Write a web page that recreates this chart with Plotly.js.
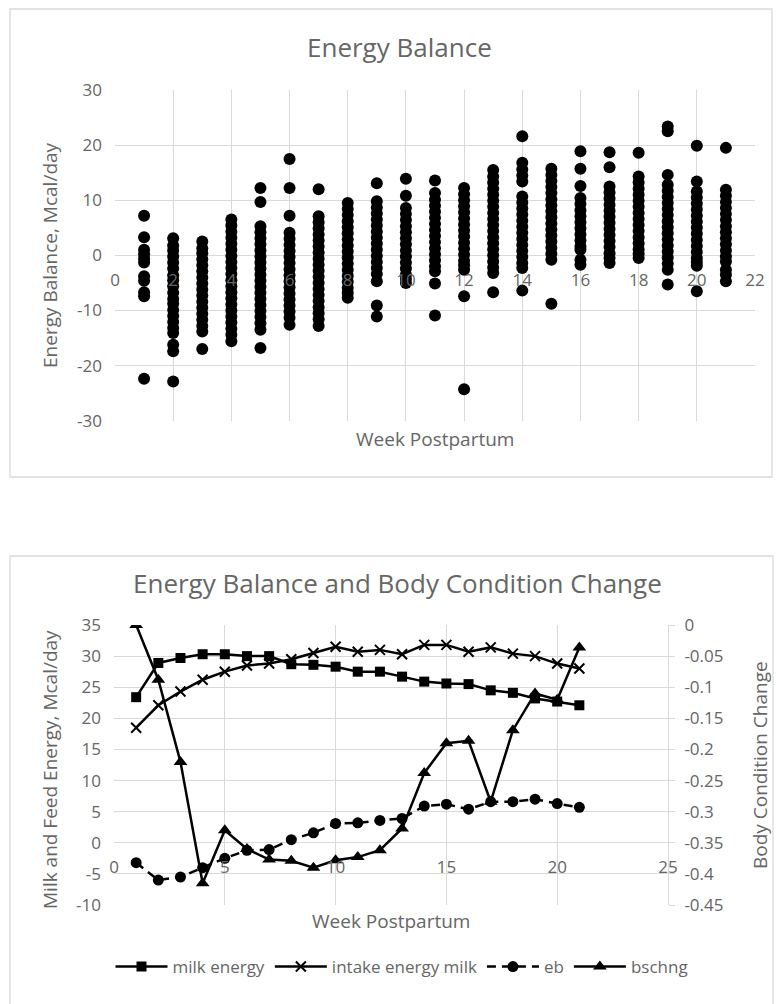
<!DOCTYPE html>
<html>
<head>
<meta charset="utf-8">
<script src="https://cdn.plot.ly/plotly-3.0.1.min.js"></script>
<style>
html,body{margin:0;padding:0;background:#fff;}
#chart{width:776px;height:1004px;}
</style>
</head>
<body>
<div id="chart"></div>
<script>
// ---------- Data: top chart (Energy Balance by week postpartum) ----------
const wk1  = [7.2, 3.3, 1.0, 0.2, -0.6, -1.3, -3.8, -4.6, -6.7, -7.4, -22.4];
const wk2  = [3.1, 1.8, 0.9, -0.2, -1.3, -2.4, -3.6, -4.5, -5.6, -6.8, -7.9, -8.8, -9.9, -11.0, -12.1, -13.2, -14.1, -16.2, -17.4, -22.9];
const wk3  = [2.5, 1.3, 0.4, -0.7, -1.8, -2.9, -4.0, -5.1, -6.2, -7.3, -8.4, -9.5, -10.6, -11.7, -12.8, -13.8, -17.0];
const wk4  = [6.5, 5.4, 4.3, 3.2, 2.1, 1.0, -0.1, -1.2, -2.3, -3.4, -4.5, -5.6, -6.7, -7.8, -8.9, -10.0, -11.1, -12.2, -13.3, -14.4, -15.6];
const wk5  = [12.2, 9.7, 5.3, 4.2, 3.1, 2.0, 0.9, -0.2, -1.3, -2.4, -3.5, -4.6, -5.7, -6.8, -7.9, -9.0, -10.1, -11.2, -12.3, -13.5, -16.8];
const wk6  = [17.5, 12.2, 7.2, 4.1, 3.0, 1.9, 0.8, -0.3, -1.4, -2.5, -3.6, -4.7, -5.8, -6.9, -8.0, -9.1, -10.2, -11.3, -12.6];
const wk7  = [12.0, 7.1, 6.0, 4.9, 3.8, 2.7, 1.6, 0.5, -0.6, -1.7, -2.8, -3.9, -5.0, -6.1, -7.2, -8.3, -9.4, -10.5, -11.6, -12.8];
const wk8  = [9.5, 8.4, 7.3, 6.2, 5.1, 4.0, 2.9, 1.8, 0.7, -0.4, -1.5, -2.6, -3.7, -4.8, -5.9, -6.8, -7.7];
const wk9  = [13.1, 9.8, 8.7, 7.6, 6.5, 5.4, 4.3, 3.2, 2.1, 1.0, -0.1, -1.2, -2.3, -3.4, -4.7, -9.1, -11.1];
const wk10 = [13.9, 10.8, 8.6, 7.5, 6.4, 5.3, 4.2, 3.1, 2.0, 0.9, -0.2, -1.3, -2.4, -3.5, -4.3, -5.0];
const wk11 = [13.6, 11.3, 10.1, 9.0, 7.9, 6.8, 5.7, 4.6, 3.5, 2.4, 1.3, 0.2, -0.9, -2.0, -2.9, -5.1, -10.9];
const wk12 = [12.2, 11.1, 10.0, 8.9, 7.8, 6.7, 5.6, 4.5, 3.4, 2.3, 1.2, 0.1, -1.0, -1.8, -2.6, -7.4, -24.3];
const wk13 = [15.5, 14.3, 13.2, 12.1, 11.0, 9.9, 8.8, 7.7, 6.6, 5.5, 4.4, 3.3, 2.2, 1.1, 0.0, -1.1, -2.2, -3.2, -6.7];
const wk14 = [21.6, 16.8, 15.6, 14.5, 13.4, 10.7, 9.6, 8.5, 7.4, 6.3, 5.2, 4.1, 3.0, 1.9, 0.8, -0.3, -1.4, -2.3, -6.4];
const wk15 = [15.7, 14.6, 13.5, 12.4, 11.3, 10.2, 9.1, 8.0, 6.9, 5.8, 4.7, 3.6, 2.5, 1.4, 0.3, -0.8, -8.8];
const wk16 = [18.9, 15.7, 12.6, 10.4, 9.3, 8.2, 7.1, 6.0, 4.9, 3.8, 2.7, 1.6, 1.0, -0.8, -1.7];
const wk17 = [18.7, 16.0, 12.5, 11.4, 10.3, 9.2, 8.1, 7.0, 5.9, 4.8, 3.7, 2.6, 1.5, 0.4, -0.5, -1.4];
const wk18 = [18.6, 14.3, 13.2, 12.1, 11.0, 9.9, 8.8, 7.7, 6.6, 5.5, 4.4, 3.3, 2.2, 1.1, 0.3, -0.5];
const wk19 = [23.4, 22.5, 14.6, 12.8, 11.7, 10.6, 9.5, 8.4, 7.3, 6.2, 5.1, 4.0, 2.9, 1.8, 0.7, -0.4, -1.5, -2.6, -5.3];
const wk20 = [19.9, 13.4, 11.6, 10.5, 9.4, 8.3, 7.2, 6.1, 5.0, 3.9, 2.8, 1.7, 0.6, -0.5, -1.2, -1.9, -6.5];
const wk21 = [19.5, 11.9, 10.8, 9.7, 8.6, 7.5, 6.4, 5.3, 4.2, 3.1, 2.0, 0.9, -0.2, -1.1, -2.6, -3.5, -4.7];
const weekColumns = [wk1, wk2, wk3, wk4, wk5, wk6, wk7, wk8, wk9, wk10, wk11, wk12, wk13, wk14, wk15, wk16, wk17, wk18, wk19, wk20, wk21];

// ---------- Data: bottom chart ----------
const weeks = [1,2,3,4,5,6,7,8,9,10,11,12,13,14,15,16,17,18,19,20,21];
const milkEnergy   = [23.4, 28.9, 29.7, 30.3, 30.3, 30.0, 30.0, 28.7, 28.6, 28.3, 27.5, 27.5, 26.7, 25.9, 25.6, 25.5, 24.5, 24.1, 23.2, 22.7, 22.1];
const intakeEnergy = [18.5, 22.1, 24.3, 26.2, 27.5, 28.5, 28.8, 29.5, 30.5, 31.5, 30.7, 31.0, 30.3, 31.8, 31.8, 30.7, 31.4, 30.4, 30.0, 28.8, 28.0];
const eb           = [-3.2, -6.0, -5.5, -4.0, -2.5, -1.2, -1.1, 0.5, 1.6, 3.1, 3.2, 3.6, 3.9, 5.9, 6.2, 5.4, 6.6, 6.6, 7.0, 6.3, 5.7];
const bschng       = [0.0, -0.088, -0.22, -0.415, -0.33, -0.36, -0.377, -0.379, -0.39, -0.378, -0.373, -0.362, -0.327, -0.238, -0.19, -0.186, -0.284, -0.169, -0.11, -0.12, -0.036];

// ---------- Tick labels ----------
const topYTicks = [-30,-20,-10,0,10,20,30];
const topYText  = ['-30','-20','-10','0','10','20','30'];
const botYTicks = [-10,-5,0,5,10,15,20,25,30,35];
const botYText  = ['-10','-5','0','5','10','15','20','25','30','35'];
const rightTicks = [0,-0.05,-0.1,-0.15,-0.2,-0.25,-0.3,-0.35,-0.4,-0.45];
const rightText  = ['0','-0.05','-0.1','-0.15','-0.2','-0.25','-0.3','-0.35','-0.4','-0.45'];

// ---------- Layout helpers ----------
const W = 776, H = 1004;
const px = x => x / W;
const py = y => 1 - y / H;
const FONT = 'Open Sans, Noto Sans, sans-serif';
const GRID = '#d9d9d9';
const TXT = '#666666';

// top scatter built from the week columns
const scX = [], scY = [];
weekColumns.forEach((col, i) => col.forEach(v => { scX.push(weeks[i]); scY.push(v); }));

const topXDom = [px(115), px(755)];
const topYDom = [py(420.7), py(90)];
const botXDom = [px(114), px(668)];
const botYDom = [py(905), py(625)];

const traces = [
  {x: scX, y: scY, xaxis: 'x', yaxis: 'y', type: 'scatter', mode: 'markers',
   marker: {color: '#000', size: 12}, showlegend: false},
  {x: weeks, y: milkEnergy, xaxis: 'x2', yaxis: 'y2', type: 'scatter', mode: 'lines+markers',
   name: 'milk energy', line: {color: '#000', width: 2.5},
   marker: {symbol: 'square', size: 10, color: '#000'}},
  {x: weeks, y: intakeEnergy, xaxis: 'x2', yaxis: 'y2', type: 'scatter', mode: 'lines+markers',
   name: 'intake energy milk', line: {color: '#000', width: 2.5},
   marker: {symbol: 'x-thin', size: 10, color: '#000', line: {color: '#000', width: 2}}},
  {x: weeks, y: eb, xaxis: 'x2', yaxis: 'y2', type: 'scatter', mode: 'lines+markers',
   name: 'eb', line: {color: '#000', width: 2.5, dash: '9px,6px'},
   marker: {symbol: 'circle', size: 11, color: '#000'}},
  {x: weeks, y: bschng, xaxis: 'x2', yaxis: 'y3', type: 'scatter', mode: 'lines+markers',
   name: 'bschng', line: {color: '#000', width: 2.5},
   marker: {symbol: 'triangle-up', size: 12, color: '#000'}}
];

const tickFont = {family: FONT, size: 17, color: TXT};
const titleFont = {family: FONT, size: 19, color: TXT};
const mainFont = {family: FONT, size: 26, color: TXT};

const layout = {
  width: W, height: H,
  margin: {l: 0, r: 0, t: 0, b: 0},
  paper_bgcolor: '#fff', plot_bgcolor: '#fff',
  font: {family: FONT, color: TXT},
  showlegend: true,
  legend: {orientation: 'h', x: px(402), xanchor: 'center', y: py(967), yanchor: 'middle',
           font: {family: FONT, size: 17, color: TXT}, itemwidth: 52, bgcolor: 'rgba(0,0,0,0)'},
  xaxis: {domain: topXDom, range: [0, 22], anchor: 'y', tickmode: 'linear', tick0: 0, dtick: 2,
          tickfont: tickFont,
          ticklabelposition: 'inside', ticklabelstandoff: 128, ticklabeloverflow: 'allow',
          showgrid: true, gridcolor: GRID, gridwidth: 1, zeroline: false, showline: false,
          ticks: '', fixedrange: true},
  yaxis: {domain: topYDom, range: [-30, 30], anchor: 'x',
          tickvals: topYTicks, ticktext: topYText, tickfont: tickFont,
          showgrid: true, gridcolor: GRID, gridwidth: 1, zeroline: false, showline: false,
          ticks: '', ticklabelstandoff: 12, fixedrange: true},
  xaxis2: {domain: botXDom, range: [0, 25], anchor: 'y2', tickmode: 'linear', tick0: 0, dtick: 5,
           tickfont: tickFont,
           ticklabelposition: 'inside', ticklabelstandoff: 26, ticklabeloverflow: 'allow',
           showgrid: true, gridcolor: GRID, gridwidth: 1, zeroline: false, showline: false,
           ticks: '', fixedrange: true},
  yaxis2: {domain: botYDom, range: [-10, 35], anchor: 'x2',
           tickvals: botYTicks, ticktext: botYText, tickfont: tickFont,
           showgrid: true, gridcolor: GRID, gridwidth: 1, zeroline: false, showline: false,
           ticks: '', ticklabelstandoff: 12, fixedrange: true},
  yaxis3: {range: [-0.45, 0], overlaying: 'y2', side: 'right', anchor: 'x2',
           tickvals: rightTicks, ticktext: rightText, tickfont: tickFont,
           showgrid: false, zeroline: false, showline: true, linecolor: GRID, linewidth: 1,
           ticks: 'outside', ticklen: 6, tickcolor: GRID, tickwidth: 1, ticklabelstandoff: 6, fixedrange: true},
  shapes: [
    {type: 'rect', xref: 'paper', yref: 'paper', x0: px(10), x1: px(772), y0: py(477), y1: py(9),
     line: {color: GRID, width: 1.3}, fillcolor: 'rgba(0,0,0,0)', layer: 'below'},
    {type: 'rect', xref: 'paper', yref: 'paper', x0: px(10), x1: px(773), y0: py(1012), y1: py(556),
     line: {color: GRID, width: 1.3}, fillcolor: 'rgba(0,0,0,0)', layer: 'below'}
  ],
  annotations: [
    {text: 'Energy Balance', xref: 'paper', yref: 'paper', x: px(400), y: py(47),
     showarrow: false, xanchor: 'center', yanchor: 'middle', font: mainFont},
    {text: 'Energy Balance, Mcal/day', xref: 'paper', yref: 'paper', x: px(50), y: py(255),
     showarrow: false, textangle: -90, xanchor: 'center', yanchor: 'middle', font: titleFont},
    {text: 'Week Postpartum', xref: 'paper', yref: 'paper', x: px(435), y: py(439),
     showarrow: false, xanchor: 'center', yanchor: 'middle', font: titleFont},
    {text: 'Energy Balance and Body Condition Change', xref: 'paper', yref: 'paper', x: px(398), y: py(583),
     showarrow: false, xanchor: 'center', yanchor: 'middle', font: mainFont},
    {text: 'Milk and Feed Energy, Mcal/day', xref: 'paper', yref: 'paper', x: px(50), y: py(770),
     showarrow: false, textangle: -90, xanchor: 'center', yanchor: 'middle', font: titleFont},
    {text: 'Body Condition Change', xref: 'paper', yref: 'paper', x: px(760), y: py(765),
     showarrow: false, textangle: -90, xanchor: 'center', yanchor: 'middle', font: titleFont},
    {text: 'Week Postpartum', xref: 'paper', yref: 'paper', x: px(391), y: py(921),
     showarrow: false, xanchor: 'center', yanchor: 'middle', font: titleFont}
  ]
};

Plotly.newPlot('chart', traces, layout, {displayModeBar: false, staticPlot: true});
</script>
</body>
</html>
